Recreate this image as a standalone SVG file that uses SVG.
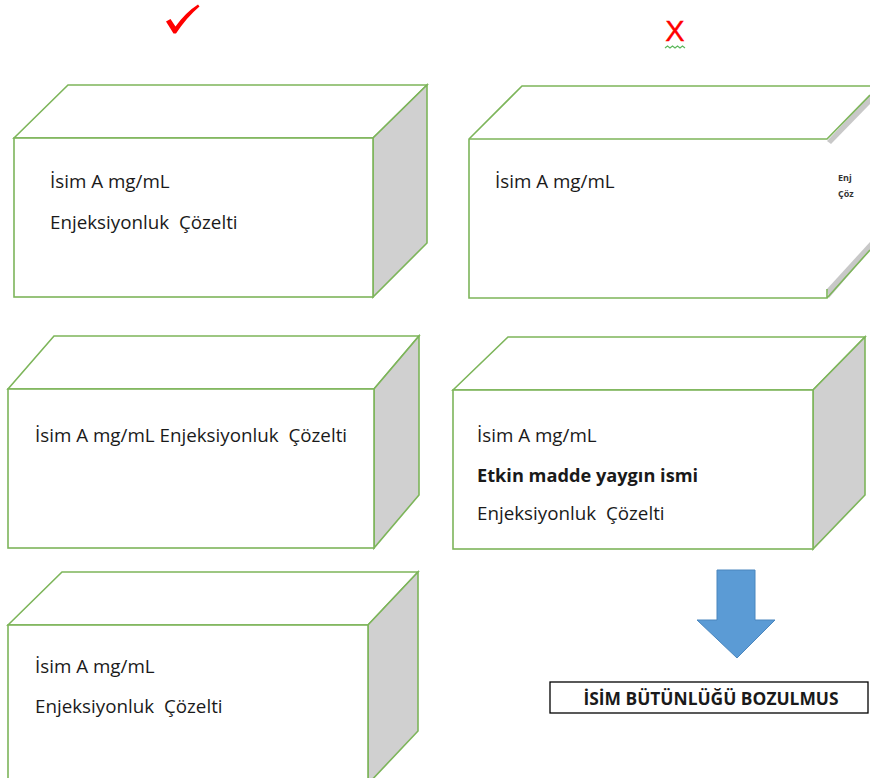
<svg xmlns="http://www.w3.org/2000/svg" width="870" height="778" viewBox="0 0 870 778">
<style>
.edge{fill:none;stroke:#7DB55A;stroke-width:1.6;stroke-linejoin:miter}
.face{fill:#FFFFFF;stroke:#7DB55A;stroke-width:1.6}
.side{fill:#D0D0D0;stroke:#7DB55A;stroke-width:1.6}
.t{font-family:"Open Sans","Liberation Sans",sans-serif;font-size:18.8px;fill:#1a1a1a}
.b{font-weight:bold;font-size:18.2px}
</style>
<rect width="870" height="778" fill="#FFFFFF"/>

<g id="check">
<path d="M166,21.5 L170.5,19 L175.5,26.5 Q186,12 198,4.5 L199.5,6.5 Q187,17 176,33.5 L173.5,33.5 Z" fill="#FF0000"/>
</g>

<g id="cross">
<text x="675" y="41" text-anchor="middle" font-family="Liberation Sans,Arial,sans-serif" font-size="29" fill="#FF0000" stroke="#FF0000" stroke-width="0.4">X</text>
<path d="M665,48 l2.5,-2 l2.5,2 l2.5,-2 l2.5,2 l2.5,-2 l2.5,2 l2.5,-2 l2.5,2" fill="none" stroke="#5CB85C" stroke-width="1.2"/>
</g>

<g id="box1">
<polygon class="face" points="14,138 68,85 427,85 373,138"/>
<polygon class="side" points="373,138 427,85 427,243 373,297"/>
<rect class="face" x="14" y="138" width="359" height="159"/>
<text class="t" x="50" y="188">İsim A mg/mL</text>
<text class="t" x="50" y="229" xml:space="preserve">Enjeksiyonluk  Çözelti</text>
</g>

<g id="box2">
<polygon class="face" points="8,389 54,336 419,336 374,389"/>
<polygon class="side" points="374,389 419,336 419,495 374,548"/>
<rect class="face" x="8" y="389" width="366" height="159"/>
<text class="t" x="35" y="442" xml:space="preserve">İsim A mg/mL Enjeksiyonluk  Çözelti</text>
</g>

<g id="box3">
<polygon class="face" points="8,625 62,572 418,572 368,625"/>
<polygon class="side" points="368,625 418,572 418,731 368,784"/>
<rect class="face" x="8" y="625" width="360" height="159"/>
<text class="t" x="35" y="673">İsim A mg/mL</text>
<text class="t" x="35" y="713" xml:space="preserve">Enjeksiyonluk  Çözelti</text>
</g>

<g id="box4">
<polygon class="face" points="453,390 508,337 865,337 813,390"/>
<polygon class="side" points="813,390 865,337 865,495 813,549"/>
<rect class="face" x="453" y="390" width="360" height="159"/>
<text class="t" x="477" y="442">İsim A mg/mL</text>
<text class="t b" x="477" y="482">Etkin madde yaygın ismi</text>
<text class="t" x="477" y="520" xml:space="preserve">Enjeksiyonluk  Çözelti</text>
</g>

<g id="box5">
<polygon points="827,141 870,95 870,104 831,144" fill="#C8C8C8"/>
<polygon points="827,289 870,242 870,250 829,298" fill="#C8C8C8"/>
<path class="edge" d="M870,86 L522,86 L469,139 L469,298 L827,298 L827,289 M827,298 L870,250"/>
<path class="edge" d="M469,139 L827,139 L870,95"/>
<text class="t" x="495" y="188">İsim A mg/mL</text>
<text x="838" y="181" font-family="Open Sans,Liberation Sans,sans-serif" font-size="9" font-weight="bold" fill="#333">Enj</text>
<text x="838" y="197" font-family="Open Sans,Liberation Sans,sans-serif" font-size="9" font-weight="bold" fill="#333">Çöz</text>
</g>

<g id="connectors">
<polygon points="717,570 755,570 755,620 775,620 737,658 697,620 717,620" fill="#5B9BD5" stroke="#4A86BE" stroke-width="1"/>
</g>

<g id="label">
<rect x="550" y="682" width="318" height="31" fill="#FFFFFF" stroke="#000000" stroke-width="1.3"/>
<text x="711" y="705" text-anchor="middle" font-family="Open Sans,Liberation Sans,sans-serif" font-size="17.4" font-weight="bold" fill="#1a1a1a">İSİM BÜTÜNLÜĞÜ BOZULMUS</text>
</g>
</svg>
